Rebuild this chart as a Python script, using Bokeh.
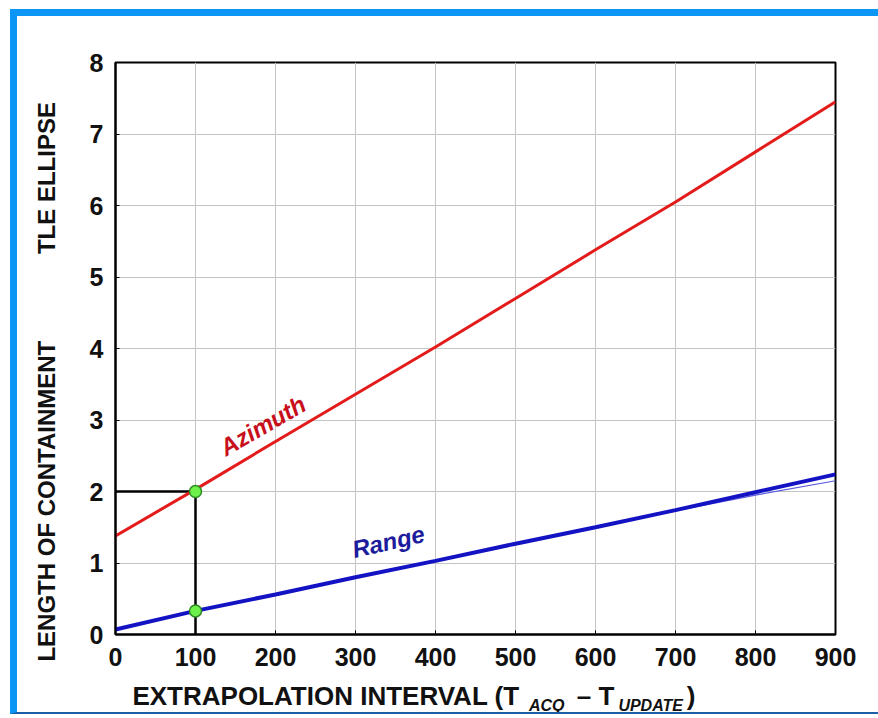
import math
from bokeh.plotting import figure
from bokeh.models import Range1d, FixedTicker, Label, LinearAxis
from bokeh.embed import file_html
from bokeh.resources import INLINE

# ---- data ----
interval = [0, 100, 200, 300, 400, 500, 600, 700, 800, 900]
azimuth = [1.38, 2.03, 2.70, 3.36, 4.02, 4.70, 5.38, 6.05, 6.75, 7.45]
range_len = [0.07, 0.33, 0.56, 0.80, 1.03, 1.27, 1.50, 1.74, 1.99, 2.24]
range_alt_x = [600, 700, 800, 900]
range_alt = [1.50, 1.73, 1.95, 2.15]
marker_x = [100, 100]
marker_y = [2.0, 0.33]
guide_h_x = [0, 100]
guide_h_y = [2.0, 2.0]
guide_v_x = [100, 100]
guide_v_y = [0, 2.0]
x_ticks = [0, 100, 200, 300, 400, 500, 600, 700, 800, 900]
y_ticks = [0, 1, 2, 3, 4, 5, 6, 7, 8]
sub_ticks = [539, 669]
sub_labels = ["ACQ", "UPDATE"]

FONT = "Liberation Sans"
NB = "\u00a0"

p = figure(width=868, height=705, output_backend="svg", toolbar_location=None,
           x_range=Range1d(0, 900), y_range=Range1d(0, 8),
           min_border_left=98, min_border_right=50, min_border_top=46,
           min_border_bottom=87)
p.styles = {"border-top": "7px solid #0b95f4", "border-left": "7px solid #0b95f4",
            "border-bottom": "2px solid #1b5fa6",
            "margin-top": "9px", "margin-left": "10px"}
p.background_fill_color = "white"
p.border_fill_color = "white"
p.outline_line_color = "black"
p.outline_line_width = 2

p.xaxis.ticker = FixedTicker(ticks=x_ticks)
p.yaxis.ticker = FixedTicker(ticks=y_ticks)
p.xgrid.ticker = FixedTicker(ticks=x_ticks)
p.ygrid.ticker = FixedTicker(ticks=y_ticks)
p.grid.grid_line_color = "#c4c4c4"
p.grid.grid_line_width = 1

for ax in (p.xaxis, p.yaxis):
    ax.axis_line_color = "black"
    ax.axis_line_width = 2
    ax.major_tick_in = 4
    ax.major_tick_out = 0
    ax.major_tick_line_color = "black"
    ax.minor_tick_line_color = None
    ax.major_label_text_font = FONT
    ax.major_label_text_font_style = "bold"
    ax.major_label_text_font_size = "25px"
    ax.major_label_text_color = "#111111"
    ax.axis_label_text_font = FONT
    ax.axis_label_text_font_style = "bold"
    ax.axis_label_text_color = "#111111"
p.xaxis.major_label_standoff = 13
p.yaxis.major_label_standoff = 12

# axis titles (non-breaking spaces keep the gaps of the original)
p.yaxis.axis_label = ("LENGTH OF CONTAINMENT" + NB * 13 + "TLE ELLIPSE" + NB * 10)
p.yaxis.axis_label_text_font_size = "24px"
p.yaxis.axis_label_standoff = 27

p.xaxis.axis_label = ("EXTRAPOLATION INTERVAL (T" + NB * 8 + "\u2013 T" + NB * 10 + ")" + NB * 17)
p.xaxis.axis_label_text_font_size = "26px"
p.xaxis.axis_label_standoff = 12

# subscripts drawn as an extra, line-less axis
sub_axis = LinearAxis(ticker=FixedTicker(ticks=sub_ticks),
                      major_label_overrides=dict(zip(sub_ticks, sub_labels)))
sub_axis.axis_line_color = None
sub_axis.major_tick_line_color = None
sub_axis.minor_tick_line_color = None
sub_axis.major_tick_in = 0
sub_axis.major_tick_out = 0
sub_axis.major_label_standoff = -17
sub_axis.major_label_text_font = FONT
sub_axis.major_label_text_font_style = "bold italic"
sub_axis.major_label_text_font_size = "16px"
sub_axis.major_label_text_color = "#111111"
p.add_layout(sub_axis, "below")

# guide lines
p.line(guide_h_x, guide_h_y, line_color="black", line_width=2.5)
p.line(guide_v_x, guide_v_y, line_color="black", line_width=2.5)

# series
p.line(interval, azimuth, line_color="#e31b1b", line_width=3)
p.line(range_alt_x, range_alt, line_color="#5a5ae0", line_width=1.2)
p.line(interval, range_len, line_color="#1313c4", line_width=4)

p.scatter(marker_x, marker_y, size=12, fill_color="#6ef04a",
          line_color="#2f8a25", line_width=1.5)

# in-plot series labels
p.add_layout(Label(x=184, y=2.92, text="Azimuth", angle=math.radians(30),
                   text_font=FONT, text_font_style="bold italic",
                   text_font_size="24px", text_color="#c8101c",
                   text_align="center", text_baseline="middle"))
p.add_layout(Label(x=341, y=1.30, text="Range", angle=math.radians(13),
                   text_font=FONT, text_font_style="bold italic",
                   text_font_size="24px", text_color="#1c1c9c",
                   text_align="center", text_baseline="middle"))

open("out.html", "w").write(file_html(p, INLINE))
